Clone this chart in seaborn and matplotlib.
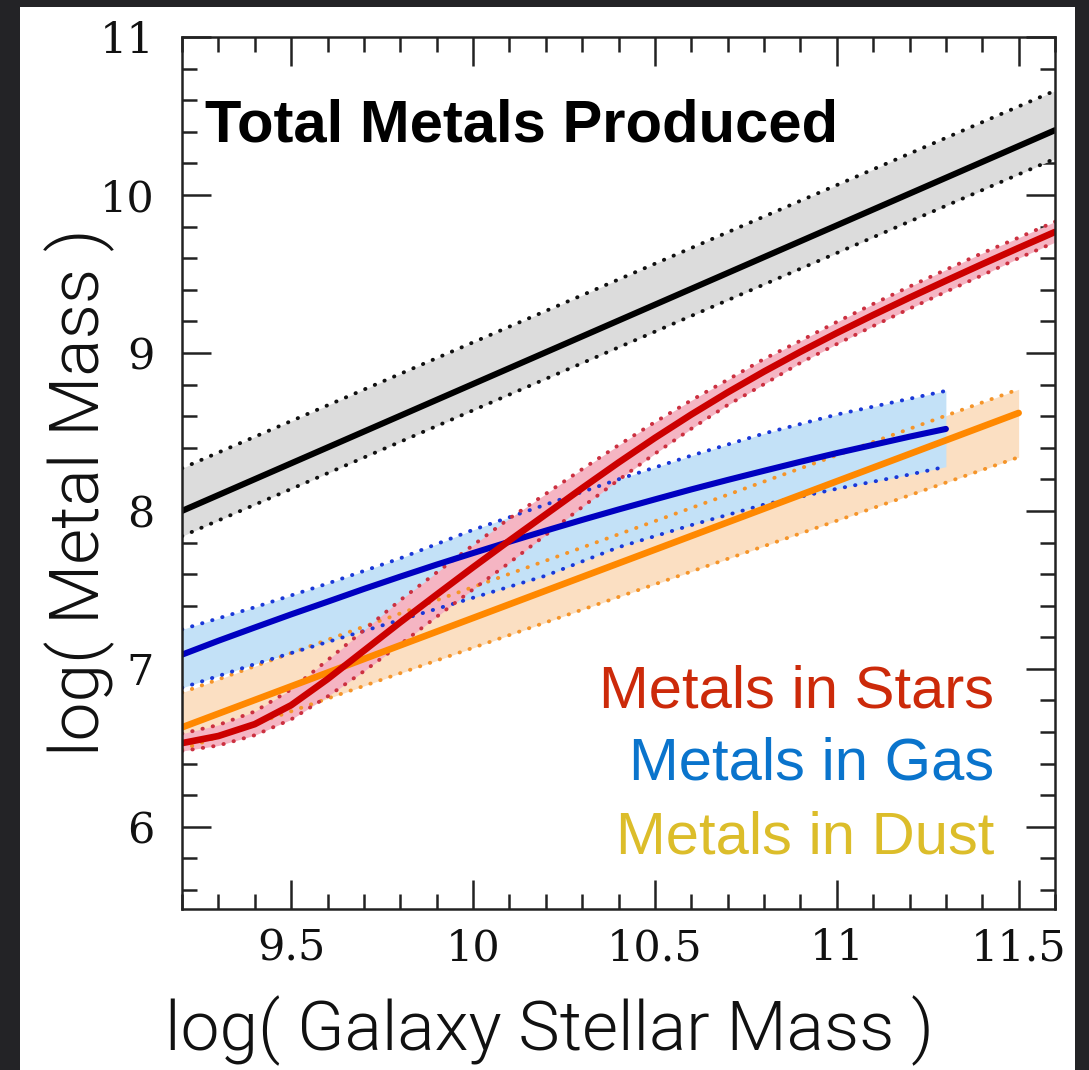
import matplotlib
matplotlib.use("Agg")
import matplotlib.pyplot as plt
import seaborn as sns
import pandas as pd
from matplotlib.patches import Rectangle
from matplotlib.ticker import FixedLocator, MultipleLocator

# ---------------- data ----------------
total_x = [9.2, 11.6]
total_y = [8.00, 10.41]
total_hi = [8.27, 10.66]
total_lo = [7.84, 10.23]

stars_x = [9.2, 9.3, 9.4, 9.5, 9.6, 9.7, 9.8, 9.9, 10.0, 10.1, 10.2, 10.3, 10.4,
           10.5, 10.6, 10.7, 10.8, 10.9, 11.0, 11.1, 11.2, 11.3, 11.4, 11.5, 11.6]
stars_y = [6.530, 6.575, 6.650, 6.770, 6.935, 7.115, 7.295, 7.470, 7.643, 7.812,
           7.978, 8.144, 8.306, 8.462, 8.610, 8.750, 8.882, 9.007, 9.126, 9.240,
           9.350, 9.457, 9.562, 9.665, 9.766]
stars_hi = [6.590, 6.645, 6.730, 6.870, 7.055, 7.245, 7.435, 7.610, 7.783, 7.952,
            8.108, 8.264, 8.416, 8.562, 8.700, 8.830, 8.962, 9.077, 9.196, 9.310,
            9.420, 9.527, 9.632, 9.730, 9.831]
stars_lo = [6.480, 6.515, 6.580, 6.680, 6.825, 6.985, 7.155, 7.330, 7.503, 7.672,
            7.848, 8.024, 8.196, 8.362, 8.520, 8.670, 8.802, 8.937, 9.056, 9.170,
            9.280, 9.387, 9.492, 9.600, 9.701]

gas_x = [9.2, 9.3, 9.4, 9.5, 9.6, 9.7, 9.8, 9.9, 10.0, 10.1, 10.2, 10.3, 10.4,
         10.5, 10.6, 10.7, 10.8, 10.9, 11.0, 11.1, 11.2, 11.3]
gas_y = [7.090, 7.178, 7.262, 7.345, 7.425, 7.506, 7.584, 7.660, 7.733, 7.805,
         7.875, 7.943, 8.009, 8.073, 8.136, 8.196, 8.254, 8.311, 8.366, 8.418,
         8.470, 8.519]
gas_band_x = [9.2, 9.4, 9.6, 9.8, 10.0, 10.2, 10.4, 10.6, 10.8, 11.0, 11.2, 11.3]
gas_hi = [7.25, 7.39, 7.54, 7.70, 7.88, 8.04, 8.20, 8.35, 8.49, 8.61, 8.71, 8.76]
gas_lo = [6.88, 7.03, 7.17, 7.31, 7.45, 7.59, 7.77, 7.91, 8.04, 8.14, 8.23, 8.28]

dust_x = [9.2, 11.5]
dust_y = [6.63, 8.62]
dust_hi = [6.85, 8.77]
dust_lo = [6.49, 8.34]

xtick_vals = [9.5, 10.0, 10.5, 11.0, 11.5]
xtick_labels = ["9.5", "10", "10.5", "11", "11.5"]
ytick_vals = [6, 7, 8, 9, 10, 11]
ytick_labels = ["6", "7", "8", "9", "10", "11"]

legend_labels = ["Metals in Stars", "Metals in Gas", "Metals in Dust"]
legend_colors = ["#cc2a0a", "#0a74cc", "#dcbd2a"]
title_text = "Total Metals Produced"

# ---------------- figure ----------------
sns.set_theme(style="ticks")
plt.rcParams["font.family"] = ["Liberation Sans", "DejaVu Sans"]

W, H = 1089, 1070
fig = plt.figure(figsize=(W / 100, H / 100), dpi=100)
fig.patch.set_facecolor("#232326")
fig.patches.append(Rectangle((20 / W, 0), (1075 - 20) / W, 1 - 7 / H,
                             transform=fig.transFigure, facecolor="white",
                             edgecolor="none", zorder=-10))

ax = fig.add_axes([182 / W, 1 - 909 / H, (1055 - 182) / W, (909 - 37) / H])
ax.set_facecolor("white")
ax.set_zorder(1)

dot = (0, (0.1, 2.6))

def band(x, lo, hi, fill, z):
    ax.fill_between(x, lo, hi, color=fill, linewidth=0, zorder=z)

def dotted(x, y, c, z):
    sns.lineplot(x=x, y=y, ax=ax, color=c, lw=2.8, linestyle=dot,
                 dash_capstyle="round", estimator=None, sort=False, zorder=z)

def main(x, y, c, z, lw=4.4):
    sns.lineplot(x=x, y=y, ax=ax, color=c, lw=lw, estimator=None,
                 sort=False, zorder=z, solid_joinstyle="round")

# bands
band(total_x, total_lo, total_hi, "#dcdcdc", 1)
band(dust_x, dust_lo, dust_hi, "#fbdfc2", 1.1)
band(gas_band_x, gas_lo, gas_hi, "#c3e1f7", 1.2)
band(stars_x, stars_lo, stars_hi, "#f5b5c3", 1.3)

# dotted edges
dotted(total_x, total_hi, "#111111", 2)
dotted(total_x, total_lo, "#111111", 2)
dotted(dust_x, dust_hi, "#f5952a", 2)
dotted(dust_x, dust_lo, "#f5952a", 2)
dotted(gas_band_x, gas_hi, "#1a38d8", 2.1)
dotted(gas_band_x, gas_lo, "#1a38d8", 2.1)
dotted(stars_x, stars_hi, "#cc3040", 2.2)
dotted(stars_x, stars_lo, "#cc3040", 2.2)

# main lines
main(total_x, total_y, "black", 3)
main(dust_x, dust_y, "#ff8800", 3, lw=4.8)
main(gas_x, gas_y, "#0000c0", 3.1)
main(stars_x, stars_y, "#cc0000", 3.2, lw=4.8)

ax.set_xlim(9.2, 11.6)
ax.set_ylim(5.48, 11.0)

ax.xaxis.set_major_locator(FixedLocator(xtick_vals))
ax.set_xticklabels(xtick_labels)
ax.xaxis.set_minor_locator(MultipleLocator(0.1))
ax.yaxis.set_major_locator(FixedLocator(ytick_vals))
ax.set_yticklabels(ytick_labels)
ax.yaxis.set_minor_locator(MultipleLocator(0.2))

ax.tick_params(which="both", direction="in", top=True, right=True,
               color="#222222", width=1.8)
ax.tick_params(which="major", length=21)
ax.tick_params(which="minor", length=10.5)
ax.tick_params(axis="x", which="major", pad=13)
ax.tick_params(axis="y", which="major", pad=20)
for lab in ax.get_xticklabels() + ax.get_yticklabels():
    lab.set_fontfamily("DejaVu Serif")
    lab.set_fontsize(31)
    lab.set_color("#111111")
for s in ax.spines.values():
    s.set_linewidth(1.8)
    s.set_color("#222222")
    s.set_zorder(5)
ax.set_xlabel("")
ax.set_ylabel("")

# axis labels
fig.text(549 / W, 1 - 1050 / H, "log( Galaxy Stellar Mass )", ha="center",
         va="baseline", fontsize=50, family=["Roboto", "DejaVu Sans"],
         fontweight=300, color="#111111")
fig.text(99 / W, 1 - 492 / H, "log( Metal Mass )", ha="center", va="baseline",
         rotation=90, rotation_mode="anchor", fontsize=50,
         family=["Roboto", "DejaVu Sans"], fontweight=300, color="#111111")

# title
fig.text(205 / W, 1 - 142 / H, title_text, ha="left", va="baseline",
         fontsize=43, fontweight="bold", color="black", zorder=10)

# legend texts
for lab, col, yb in zip(legend_labels, legend_colors, [708, 780, 853]):
    fig.text(994 / W, 1 - yb / H, lab, ha="right", va="baseline",
             fontsize=43, color=col, zorder=10)

fig.savefig("out.png", dpi=100, facecolor=fig.get_facecolor())
